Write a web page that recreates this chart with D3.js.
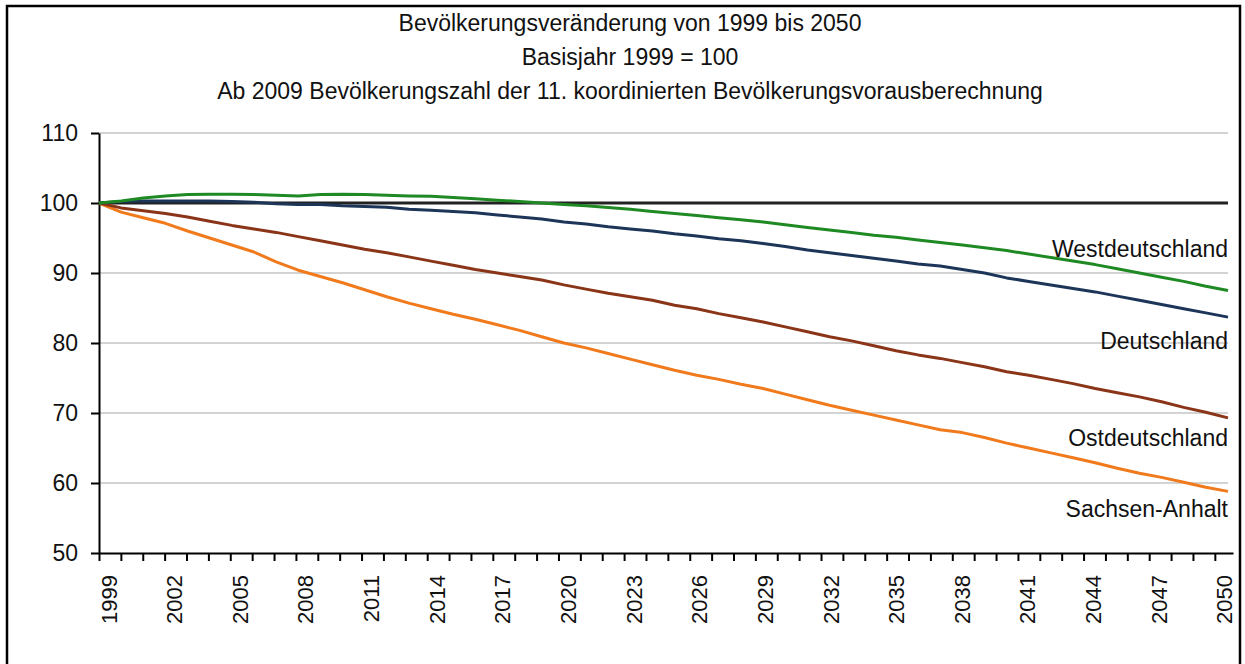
<!DOCTYPE html>
<html>
<head>
<meta charset="utf-8">
<script src="https://cdn.jsdelivr.net/npm/d3@7"></script>
<style>
    body { margin: 0; background: #fff; }
    text { font-family: "Liberation Sans", Arial, sans-serif; fill: #111; }
</style>
</head>
<body>
<svg id="chart"></svg>
<script>
// years 1999..2050
const years = d3.range(1999, 2051);
const yTicks = [50, 60, 70, 80, 90, 100, 110];
const titleLines = [
    "Bevölkerungsveränderung von 1999 bis 2050",
    "Basisjahr 1999 = 100",
    "Ab 2009 Bevölkerungszahl der 11. koordinierten Bevölkerungsvorausberechnung"
];

const basis = years.map(() => 100);
const west = [100.0, 100.3, 100.7, 101.0, 101.2, 101.25, 101.25, 101.2, 101.1, 101.0,
    101.2, 101.25, 101.2, 101.1, 101.0, 100.95, 100.8, 100.6, 100.4, 100.2,
    100.0, 99.8, 99.6, 99.35, 99.1, 98.8, 98.5, 98.2, 97.9, 97.6,
    97.3, 96.9, 96.5, 96.15, 95.8, 95.4, 95.1, 94.7, 94.35, 94.0,
    93.6, 93.2, 92.7, 92.2, 91.7, 91.2, 90.6, 90.0, 89.4, 88.8,
    88.1, 87.5];
const deutschland = [100.0, 100.2, 100.3, 100.3, 100.3, 100.3, 100.2, 100.1, 99.9, 99.8,
    99.8, 99.6, 99.5, 99.4, 99.1, 98.95, 98.8, 98.6, 98.3, 98.0,
    97.7, 97.3, 97.0, 96.6, 96.3, 96.0, 95.6, 95.3, 94.9, 94.6,
    94.2, 93.8, 93.3, 92.9, 92.5, 92.1, 91.7, 91.3, 91.0, 90.5,
    90.0, 89.3, 88.8, 88.3, 87.8, 87.3, 86.7, 86.1, 85.5, 84.9,
    84.3, 83.7];
const ost = [100.0, 99.3, 98.9, 98.5, 98.0, 97.4, 96.8, 96.3, 95.8, 95.2,
    94.6, 94.0, 93.4, 92.9, 92.3, 91.7, 91.1, 90.5, 90.0, 89.5,
    89.0, 88.3, 87.7, 87.1, 86.6, 86.1, 85.4, 84.9, 84.2, 83.6,
    83.0, 82.3, 81.6, 80.9, 80.3, 79.6, 78.9, 78.3, 77.8, 77.2,
    76.6, 75.9, 75.4, 74.8, 74.2, 73.5, 72.9, 72.3, 71.6, 70.8,
    70.1, 69.3];
const sachsenAnhalt = [100.0, 98.7, 97.9, 97.1, 96.0, 95.0, 94.0, 93.0, 91.6, 90.4,
    89.5, 88.6, 87.6, 86.6, 85.7, 84.9, 84.1, 83.4, 82.6, 81.8,
    80.9, 80.0, 79.3, 78.5, 77.7, 76.9, 76.1, 75.4, 74.8, 74.1,
    73.5, 72.7, 71.9, 71.1, 70.4, 69.7, 69.0, 68.3, 67.6, 67.2,
    66.5, 65.7, 65.0, 64.3, 63.6, 62.9, 62.1, 61.4, 60.8, 60.1,
    59.4, 58.8];

function init() {
    const width = 1245;
    const height = 664;
    const left = 99, right = 1228, top = 133, bottom = 553;

    const svg = d3.select("#chart")
        .attr("width", width)
        .attr("height", height);

    //frame around the chart
    svg.append("rect")
        .attr("x", 7).attr("y", 6)
        .attr("width", 1233).attr("height", 700)
        .attr("fill", "none")
        .attr("stroke", "#000")
        .attr("stroke-width", 2.5);

    //lines run the full width, the year ticks are a bit tighter (category axis)
    const scaleX = d3.scaleLinear().domain([1999, 2050]).range([left, right]);
    const tickX = d3.scaleLinear().domain([1999, 2050.83]).range([left, 1233]);
    const scaleY = d3.scaleLinear().domain([50, 110]).range([bottom, top]);

    //title, three centred lines
    svg.selectAll(".title").data(titleLines).enter()
        .append("text")
        .attr("class", "title")
        .attr("x", 630)
        .attr("y", (d, i) => 31 + i * 34)
        .attr("text-anchor", "middle")
        .style("font-size", "23px")
        .text(d => d);

    //gridlines
    svg.append("g")
        .selectAll("line").data(yTicks.filter(d => d > 50)).enter()
        .append("line")
        .attr("x1", left).attr("x2", right)
        .attr("y1", d => scaleY(d)).attr("y2", d => scaleY(d))
        .attr("stroke", "#c4c4c4")
        .attr("stroke-width", 1.5);

    //axes
    const yAxis = d3.axisLeft(scaleY).tickValues(yTicks).tickSize(8).tickSizeOuter(0).tickPadding(13);
    svg.append("g")
        .attr("transform", `translate(${left}, 0)`)
        .call(yAxis)
        .call(g => g.select(".domain").attr("stroke", "#000").attr("stroke-width", 2))
        .call(g => g.selectAll(".tick line").attr("stroke", "#000").attr("stroke-width", 2))
        .call(g => g.selectAll("text").style("font-size", "23px").attr("fill", "#111")
            .style("font-family", "'Liberation Sans', Arial, sans-serif"));

    const xAxis = d3.axisBottom(tickX).tickValues(years).tickSize(8).tickSizeOuter(0)
        .tickFormat(d => (d - 1999) % 3 === 0 ? d : "");
    svg.append("g")
        .attr("transform", `translate(0, ${bottom})`)
        .call(xAxis)
        .call(g => g.select(".domain").attr("stroke", "#000").attr("stroke-width", 2))
        .call(g => g.selectAll(".tick line").attr("stroke", "#000").attr("stroke-width", 2))
        .call(g => g.selectAll("text")
            .style("font-size", "22px").attr("fill", "#111")
            .style("font-family", "'Liberation Sans', Arial, sans-serif")
            .attr("text-anchor", "end")
            .attr("dy", null)
            .attr("y", 0)
            .attr("transform", "translate(17, 22) rotate(-90)"));

    //series lines
    const series = [
        { name: "Basis", values: basis, color: "#222222", label: null, dy: 0 },
        { name: "Sachsen-Anhalt", values: sachsenAnhalt, color: "#f07a1c", label: "Sachsen-Anhalt", dy: 26 },
        { name: "Ostdeutschland", values: ost, color: "#8a3418", label: "Ostdeutschland", dy: 28 },
        { name: "Deutschland", values: deutschland, color: "#1c3558", label: "Deutschland", dy: 32 },
        { name: "Westdeutschland", values: west, color: "#1f8a24", label: "Westdeutschland", dy: -34 }
    ];

    const line = d3.line()
        .x((d, i) => scaleX(years[i]))
        .y(d => scaleY(d));

    svg.append("g")
        .selectAll("path").data(series).enter()
        .append("path")
        .attr("d", d => line(d.values))
        .attr("fill", "none")
        .attr("stroke", d => d.color)
        .attr("stroke-width", 3)
        .attr("stroke-linejoin", "round");

    //labels at the right end
    svg.append("g")
        .selectAll("text").data(series.filter(d => d.label)).enter()
        .append("text")
        .attr("x", right)
        .attr("y", d => scaleY(d.values[d.values.length - 1]) + d.dy)
        .attr("text-anchor", "end")
        .style("font-size", "23px")
        .text(d => d.label);
}

window.onload = init;
</script>
</body>
</html>
